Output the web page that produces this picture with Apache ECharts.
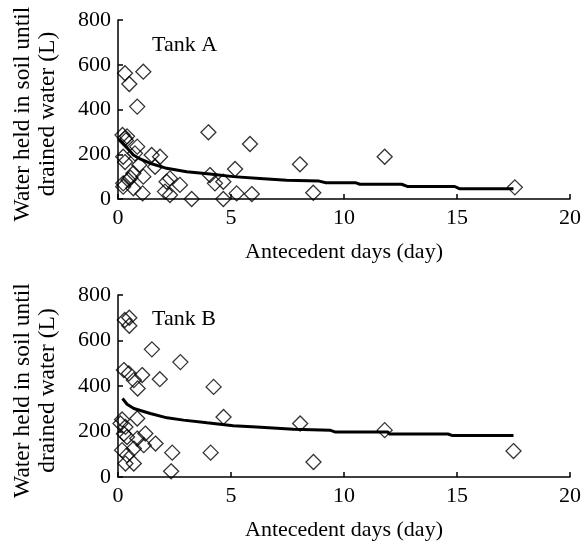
<!DOCTYPE html>
<html><head><meta charset="utf-8">
<script src="https://cdn.jsdelivr.net/npm/echarts@6/dist/echarts.min.js"></script>
<style>html,body{margin:0;padding:0;background:#fff}#c{width:588px;height:542px}</style>
</head><body><div id="c"></div>
<script>
var xTicks = [0, 5, 10, 15, 20];
var yTicks = [0, 200, 400, 600, 800];
var panelLabels = ['Tank A', 'Tank B'];
var xTitle = 'Antecedent days (day)';
var yTitle = 'Water held in soil until\ndrained water (L)';

// Tank A observed points [day, L]
var tankAObs = [
  [0.31,562],[1.12,569],[0.5,514],[0.85,413],[0.2,286],[0.31,271],[0.4,280],[0.35,262],
  [0.85,234],[0.75,204],[1.49,197],[1.86,189],[0.23,189],[0.31,165],[0.94,152],[1.64,144],
  [0.68,115],[1.12,100],[0.55,95],[0.46,85],[0.23,70],[0.23,55],[0.68,48],[1.09,25],
  [2.3,92],[2.15,77],[2.74,63],[2.08,33],[2.3,18],[3.26,0],[4.0,298],[4.07,107],
  [4.29,70],[4.66,77],[5.18,134],[4.66,0],[5.25,25],[5.92,22],[5.84,246],[8.05,155],
  [8.64,28],[11.8,189],[17.56,52]
];
// Tank A fitted curve [day, L]
var tankALine = [
  [0.05,268],[0.3,240],[0.68,197],[1.0,178],[1.42,160],[2.15,137],[3.04,122],[4.07,112],
  [5.1,100],[6.28,92],[7.46,84],[8.9,80],[9.2,73],[10.5,73],[10.7,66],[12.55,66],
  [12.8,56],[14.9,56],[15.1,46],[17.5,46]
];
// Tank B observed points [day, L]
var tankBObs = [
  [0.3,690],[0.5,700],[0.5,665],[1.5,561],[2.76,505],[0.26,470],[0.48,455],[1.07,448],
  [0.7,426],[0.87,389],[1.85,430],[4.23,396],[4.67,264],[8.06,235],[0.85,257],[0.18,253],
  [0.11,235],[0.33,220],[0.26,190],[0.4,176],[1.21,191],[0.85,169],[1.14,140],[1.66,147],
  [0.7,125],[0.18,118],[0.4,96],[0.33,59],[0.7,59],[2.4,107],[2.35,25],[4.1,107],
  [8.65,66],[11.8,206],[17.5,114]
];
// Tank B fitted curve [day, L]
var tankBLine = [
  [0.2,345],[0.4,320],[0.7,301],[1.43,279],[2.17,260],[2.9,250],[3.94,238],[5.1,225],
  [6.13,220],[7.76,210],[9.4,205],[9.6,198],[11.95,198],[12.0,189],[14.6,189],[14.8,182],[17.5,182]
];

var FONT = 'Liberation Serif';
var FS = 22;
var chart = echarts.init(document.getElementById('c'));

function xAx(gi){
  return {
    gridIndex: gi, type: 'value', min: 0, max: 20, interval: 5,
    name: xTitle, nameLocation: 'middle', nameGap: 42,
    nameTextStyle: {fontFamily: FONT, fontSize: FS, color: '#000'},
    axisLine: {show: true, lineStyle: {color: '#000', width: 1.5}},
    axisTick: {show: true, inside: true, length: 5, lineStyle: {color: '#000', width: 1.5}},
    axisLabel: {fontFamily: FONT, fontSize: FS, color: '#000', margin: 8,
      formatter: function(v){ return xTicks.indexOf(v) >= 0 ? String(v) : ''; }},
    splitLine: {show: false}
  };
}
function yAx(gi){
  return {
    gridIndex: gi, type: 'value', min: 0, max: 800, interval: 200,
    name: yTitle, nameLocation: 'middle', nameGap: 58, nameRotate: 90,
    nameTextStyle: {fontFamily: FONT, fontSize: 23.5, color: '#000', lineHeight: 25, padding: [0, 9, 0, 0]},
    axisLine: {show: true, lineStyle: {color: '#000', width: 1.5}},
    axisTick: {show: true, inside: true, length: 5, lineStyle: {color: '#000', width: 1.5}},
    axisLabel: {fontFamily: FONT, fontSize: FS, color: '#000', margin: 7,
      formatter: function(v){ return yTicks.indexOf(v) >= 0 ? String(v) : ''; }},
    splitLine: {show: false}
  };
}
function scat(gi, data){
  return {type: 'scatter', xAxisIndex: gi, yAxisIndex: gi, data: data,
    symbol: 'diamond', symbolSize: 15, silent: true,
    itemStyle: {color: 'rgba(0,0,0,0)', borderColor: '#000', borderWidth: 1.3}};
}
function line(gi, data){
  return {type: 'line', xAxisIndex: gi, yAxisIndex: gi, data: data, showSymbol: false,
    symbol: 'none', smooth: false, silent: true, z: 3,
    lineStyle: {color: '#000', width: 3}};
}

chart.setOption({
  animation: false,
  backgroundColor: '#fff',
  title: [
    {text: panelLabels[0], left: 147, top: 29, textStyle: {fontFamily: FONT, fontSize: FS, fontWeight: 'normal', color: '#000'}},
    {text: panelLabels[1], left: 147, top: 303, textStyle: {fontFamily: FONT, fontSize: FS, fontWeight: 'normal', color: '#000'}}
  ],
  grid: [
    {left: 118, top: 20, width: 452, height: 179, containLabel: false, outerBoundsMode: 'none'},
    {left: 118, top: 295, width: 452, height: 182, containLabel: false, outerBoundsMode: 'none'}
  ],
  xAxis: [xAx(0), xAx(1)],
  yAxis: [yAx(0), yAx(1)],
  series: [scat(0, tankAObs), line(0, tankALine), scat(1, tankBObs), line(1, tankBLine)]
});
</script>
</body></html>
